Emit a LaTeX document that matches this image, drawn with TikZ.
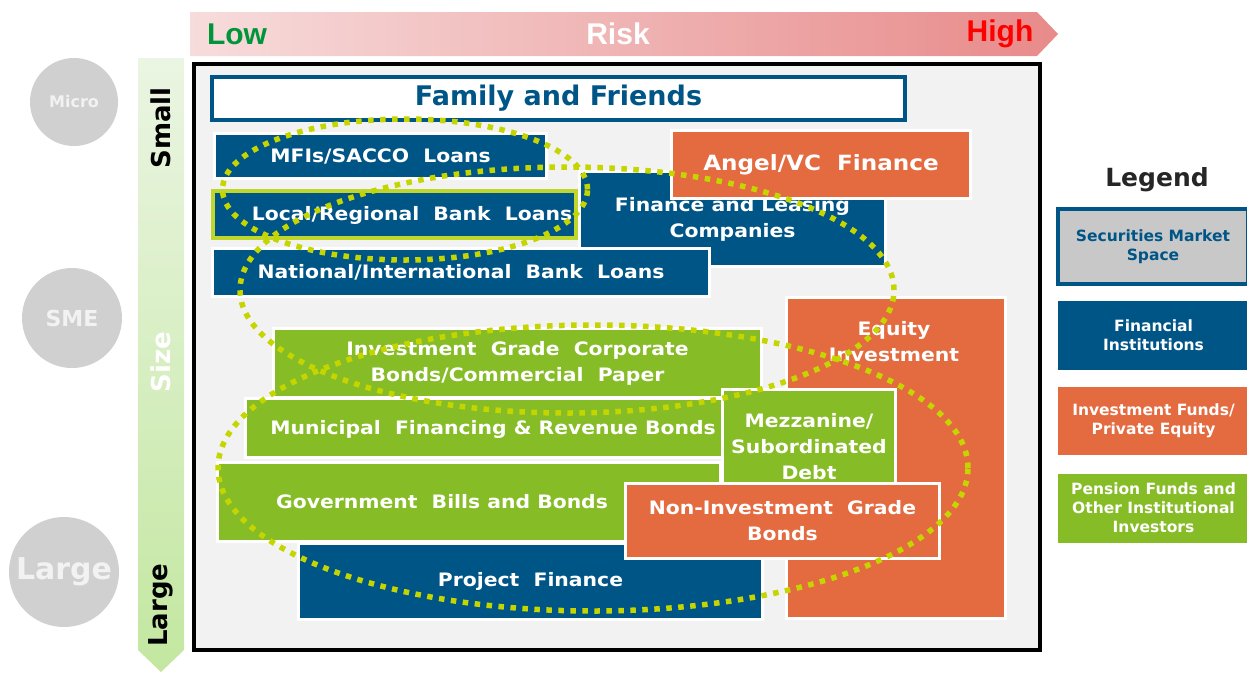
\documentclass[tikz,border=0pt]{standalone}
\usepackage{fontspec}
\setmainfont{DejaVu Sans}
\newfontfamily\boxfont[FakeStretch=1.1]{DejaVu Sans}
\newfontfamily\riskfont{Liberation Sans}
\usetikzlibrary{shapes.geometric}

\definecolor{fiBlue}{HTML}{005587}
\definecolor{fundOrange}{HTML}{E46A40}
\definecolor{penGreen}{HTML}{86BC26}
\definecolor{reachLime}{HTML}{C5D500}
\definecolor{localLime}{HTML}{BFD62C}
\definecolor{frameGray}{HTML}{F2F2F2}
\definecolor{dotGray}{HTML}{D0D0D0}
\definecolor{secGray}{HTML}{C8C8C8}
\definecolor{riskLow}{HTML}{F7DCDC}
\definecolor{riskHigh}{HTML}{E88A8A}
\definecolor{sizeTop}{HTML}{EBF5E3}
\definecolor{sizeBot}{HTML}{C3E7A0}
\definecolor{lowGreen}{HTML}{00953A}
\definecolor{legendInk}{HTML}{262626}

\tikzset{
  box/.style={draw=white, line width=3pt, inner sep=0pt, text=white, align=center,
    font=\boxfont\bfseries\fontsize{18.5}{26}\selectfont},
  boxTxt/.style={text=white, align=center, inner sep=0pt,
    font=\boxfont\bfseries\fontsize{18.5}{26}\selectfont},
  fiBox/.style={box, fill=fiBlue},
  fundBox/.style={box, fill=fundOrange},
  penBox/.style={box, fill=penGreen},
  legBox/.style={draw=white, line width=1pt, inner sep=0pt, text=white, align=center,
    minimum width=193pt, minimum height=70pt,
    font=\bfseries\fontsize{15.5}{19}\selectfont},
  riskTxt/.style={font=\riskfont\bfseries\fontsize{30}{34}\selectfont, inner sep=0pt},
  sizeTxt/.style={rotate=90, font=\bfseries\fontsize{26}{28}\selectfont, inner sep=0pt},
  sizeDot/.style={circle, fill=dotGray, text=frameGray, inner sep=0pt, font=\bfseries},
  reach/.style={draw=reachLime, line width=5.5pt, dash pattern=on 5.5pt off 6.5pt}
}

\begin{document}
\begin{tikzpicture}[x=1pt,y=-1pt]
\useasboundingbox (0,0) rectangle (1247,673);

% risk axis
\shade[left color=riskLow, right color=riskHigh]
  (190,12) -- (1037,12) -- (1058,34) -- (1037,56) -- (190,56) -- cycle;
\node[riskTxt, text=lowGreen] (low) at (237,34) {Low};
\node[riskTxt, text=white] (risk) at (618,34) {Risk};
\node[riskTxt, text=red] (high) at (1000,34) {High};

% size axis
\shade[top color=sizeTop, bottom color=sizeBot]
  (138,58) -- (184,58) -- (184,650) -- (161,672) -- (138,650) -- cycle;
\node[sizeTxt, text=black] (small) at (161,128) {Small};
\node[sizeTxt, text=white] (size) at (161,362) {Size};
\node[sizeTxt, text=black] (largeTxt) at (161,605) {Large};

\node[sizeDot, minimum size=88pt, font=\bfseries\fontsize{16}{18}\selectfont] (micro) at (74,102) {Micro};
\node[sizeDot, minimum size=100pt, font=\bfseries\fontsize{22}{24}\selectfont] (sme) at (72,318) {SME};
\node[sizeDot, minimum size=110pt, font=\bfseries\fontsize{30}{32}\selectfont] (large) at (64,572) {Large};

% frame
\draw[line width=4pt, fill=frameGray] (194,64) rectangle (1040,650);

% top rows
\node[draw=fiBlue, line width=4pt, fill=white, minimum width=693pt, minimum height=43pt,
  text=fiBlue, inner sep=0pt, font=\bfseries\fontsize{27}{30}\selectfont] (family) at (558.5,98.5) {Family and Friends};
\node[fiBox, minimum width=332pt, minimum height=45pt] (mfi) at (380.5,156) {MFIs/SACCO\ \ Loans};
\node[fiBox, draw=localLime, line width=4pt, minimum width=363pt, minimum height=47pt] (local) at (394.5,214.5) {};
\node[boxTxt] (localTxt) at (412,215) {Local/Regional\ \ Bank\ \ Loans};
\node[fiBox, minimum width=306pt, minimum height=95pt] (leasing) at (732.5,219) {Finance and Leasing\\Companies};
\node[fiBox, minimum width=497pt, minimum height=48pt] (national) at (461,272.5) {National/International\ \ Bank\ \ Loans};
\node[fundBox, minimum width=299pt, minimum height=68pt, font=\boxfont\bfseries\fontsize{21}{24}\selectfont] (angel) at (821,164.5) {Angel/VC\ \ Finance};

% lower rows
\node[fundBox, minimum width=219pt, minimum height=321pt] (equity) at (896,458) {};
\node[boxTxt] (equityTxt) at (894,342) {Equity\\Investment};
\node[penBox, minimum width=488pt, minimum height=69pt] (corporate) at (517.5,363) {Investment\ \ Grade\ \ Corporate\\Bonds/Commercial\ \ Paper};
\node[penBox, minimum width=477pt, minimum height=59pt] (municipal) at (484,428) {};
\node[boxTxt] (municipalTxt) at (493,429) {Municipal\ \ Financing \& Revenue Bonds};
\node[penBox, minimum width=503pt, minimum height=79pt] (government) at (469,502) {};
\node[boxTxt] (governmentTxt) at (442,502) {Government\ \ Bills and Bonds};
\node[fiBox, minimum width=464pt, minimum height=76pt] (project) at (530.5,581.5) {Project\ \ Finance};
\node[penBox, minimum width=173pt, minimum height=115pt] (mezzanine) at (809,447) {Mezzanine/\\Subordinated\\Debt};
\node[fundBox, minimum width=314pt, minimum height=75pt] (nonInvest) at (782.5,521) {Non-Investment\ \ Grade\\Bonds};

% reach of each investor group
\draw[reach] (405,189.5) ellipse [x radius=182.5pt, y radius=70.5pt];
\draw[reach] (567,290) ellipse [x radius=327pt, y radius=123pt];
\draw[reach] (593,468) ellipse [x radius=375pt, y radius=143pt];

% legend
\node[text=legendInk, inner sep=0pt, font=\bfseries\fontsize{25}{28}\selectfont] (legend) at (1157,180) {Legend};
\node[legBox, draw=fiBlue, line width=4pt, fill=secGray, text=fiBlue, minimum width=190pt, minimum height=75pt] (secLeg) at (1153,246.5) {Securities Market\\Space};
\node[legBox, fill=fiBlue] (fiLeg) at (1153.5,335) {Financial\\Institutions};
\node[legBox, fill=fundOrange, minimum height=69pt] (fundLeg) at (1153.5,420.5) {Investment Funds/\\Private Equity};
\node[legBox, fill=penGreen] (penLeg) at (1153.5,508) {Pension Funds and\\Other Institutional\\Investors};

\end{tikzpicture}
\end{document}
